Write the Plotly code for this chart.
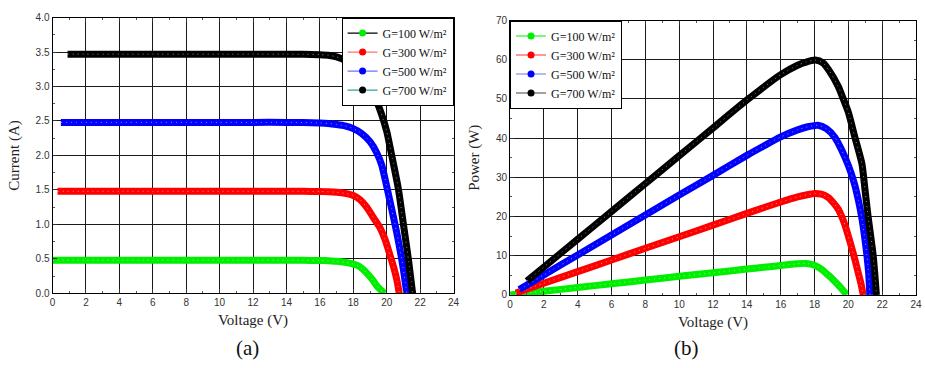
import plotly.graph_objects as go

W, H = 925, 368

# ---------------- Panel (a): I-V curves ----------------
iv_v_100 = [0.0, 2, 4, 6, 8, 10, 12, 14, 15, 16, 16.5, 17, 17.5, 18, 18.3, 18.6, 18.9, 19.2, 19.4, 19.6, 19.8, 19.9]
iv_i_100 = [0.48, 0.48, 0.48, 0.48, 0.48, 0.48, 0.48, 0.48, 0.478, 0.476, 0.472, 0.465, 0.45, 0.425, 0.40, 0.345, 0.27, 0.18, 0.11, 0.06, 0.015, 0.0]

iv_v_300 = [0.3, 2, 4, 6, 8, 10, 12, 14, 15, 16, 16.5, 17, 17.5, 18, 18.4, 18.8, 19.2, 19.6, 19.9, 20.2, 20.4, 20.6, 20.75]
iv_i_300 = [1.48, 1.48, 1.48, 1.48, 1.48, 1.48, 1.48, 1.48, 1.479, 1.477, 1.473, 1.465, 1.45, 1.42, 1.36, 1.25, 1.10, 0.95, 0.78, 0.55, 0.39, 0.20, 0.0]

iv_v_500 = [0.5, 2, 4, 6, 8, 10, 12, 14, 15, 16, 16.5, 17, 17.5, 18, 18.5, 19, 19.4, 19.7, 20.0, 20.3, 20.6, 20.9, 21.05, 21.2]
iv_i_500 = [2.48, 2.48, 2.48, 2.48, 2.48, 2.48, 2.48, 2.48, 2.478, 2.472, 2.465, 2.45, 2.43, 2.39, 2.32, 2.20, 2.04, 1.86, 1.55, 1.22, 0.88, 0.49, 0.26, 0.0]

iv_v_700 = [0.9, 2, 4, 6, 8, 10, 12, 14, 15, 16, 16.5, 17, 17.7, 18.3, 18.7, 19.07, 19.4, 19.66, 20.0, 20.2, 20.4, 20.7, 21.0, 21.3, 21.55]
iv_i_700 = [3.47, 3.47, 3.47, 3.47, 3.47, 3.47, 3.47, 3.47, 3.468, 3.462, 3.455, 3.43, 3.36, 3.24, 3.10, 2.94, 2.78, 2.62, 2.35, 2.12, 1.88, 1.51, 1.0, 0.49, 0.0]

# ---------------- Panel (b): P-V curves ----------------
pv_v_100 = [0.0, 2, 4, 6, 8, 10, 12, 14, 15, 16, 16.5, 17, 17.5, 18.0, 18.4, 18.8, 19.1, 19.4, 19.6, 19.8, 19.9]
pv_p_100 = [0.0, 0.95, 1.9, 2.85, 3.8, 4.75, 5.65, 6.6, 7.05, 7.5, 7.75, 7.95, 8.05, 7.6, 6.6, 5.1, 3.9, 2.6, 1.6, 0.6, 0.0]

pv_v_300 = [0.35, 2, 4, 6, 8, 10, 12, 14, 16, 17, 17.5, 18.0, 18.4, 18.8, 19.1, 19.4, 19.6, 19.8, 20.0, 20.2, 20.4, 20.6, 20.75, 20.88]
pv_p_300 = [0.5, 3.0, 5.95, 8.9, 11.9, 14.85, 17.8, 20.8, 23.7, 25.0, 25.5, 25.9, 25.7, 24.9, 23.6, 21.9, 20.1, 17.8, 15.0, 12.0, 8.8, 5.4, 2.8, 0.0]

pv_v_500 = [0.55, 2, 4, 6, 8, 10, 12, 14, 15, 16, 17, 17.6, 18.2, 18.7, 19.2, 19.6, 20.0, 20.35, 20.6, 20.8, 21.0, 21.1, 21.2, 21.27]
pv_p_500 = [1.4, 5.1, 10.2, 15.3, 20.4, 25.5, 30.5, 35.6, 38.0, 40.3, 42.1, 42.9, 43.3, 42.4, 40.2, 37.0, 33.0, 28.5, 24.0, 19.5, 13.5, 10.0, 5.5, 0.0]

pv_v_700 = [1.0, 2, 4, 6, 8, 10, 12, 14, 16, 17, 17.5, 18.05, 18.5, 18.85, 19.4, 19.7, 20.0, 20.4, 20.8, 21.0, 21.17, 21.47, 21.66]
pv_p_700 = [3.55, 7.1, 14.2, 21.3, 28.4, 35.5, 42.6, 49.7, 56.2, 58.6, 59.4, 59.9, 59.2, 57.3, 53.2, 50.0, 46.6, 40.0, 33.5, 26.2, 19.9, 10.0, 0.0]

labels = ["G=100 W/m²", "G=300 W/m²", "G=500 W/m²", "G=700 W/m²"]
colors = ["#00ee00", "#ff0000", "#0000ff", "#000000"]
legend_a_line = ["#000000", "#ff7070", "#7070ff", "#2f9f9f"]
legend_b_line = ["#00ee00", "#ff3030", "#7070ff", "#444444"]

iv_sets = [(iv_v_100, iv_i_100), (iv_v_300, iv_i_300), (iv_v_500, iv_i_500), (iv_v_700, iv_i_700)]
pv_sets = [(pv_v_100, pv_p_100), (pv_v_300, pv_p_300), (pv_v_500, pv_p_500), (pv_v_700, pv_p_700)]

fig = go.Figure()

def add_band(xs, ys, color, xa, ya):
    fig.add_trace(go.Scatter(x=xs, y=ys, mode="lines", xaxis=xa, yaxis=ya,
                             line=dict(color=color, width=7, shape="spline", smoothing=0.6),
                             showlegend=False, hoverinfo="skip"))
    fig.add_trace(go.Scatter(x=xs, y=ys, mode="lines", xaxis=xa, yaxis=ya,
                             line=dict(color="rgba(255,255,255,0.55)", width=1, dash="1px,4px",
                                       shape="spline", smoothing=0.6),
                             showlegend=False, hoverinfo="skip"))

for (xs, ys), c in zip(iv_sets, colors):
    add_band(xs, ys, c, "x", "y")
for (xs, ys), c in zip(pv_sets, colors):
    add_band(xs, ys, c, "x2", "y2")

# legend entries
for lab, c, lc in zip(labels, colors, legend_a_line):
    fig.add_trace(go.Scatter(x=[None], y=[None], mode="lines+markers", name=lab, xaxis="x", yaxis="y",
                             line=dict(color=lc, width=1.2),
                             marker=dict(color=c, size=7, line=dict(color=c, width=0)),
                             legend="legend"))
for lab, c, lc in zip(labels, colors, legend_b_line):
    fig.add_trace(go.Scatter(x=[None], y=[None], mode="lines+markers", name=lab, xaxis="x2", yaxis="y2",
                             line=dict(color=lc, width=1.2),
                             marker=dict(color=c, size=7, line=dict(color=c, width=0)),
                             legend="legend2"))

tickfont = dict(family="Liberation Sans, Arial", size=10, color="#333333")
titlefont = dict(family="Liberation Serif, Times New Roman", size=15, color="#222222")

def xax(domain, anchor):
    return dict(domain=domain, anchor=anchor, range=[0, 24], dtick=2, tick0=0,
                showgrid=True, gridcolor="#1a1a1a", gridwidth=1, zeroline=False,
                showline=True, linecolor="#000000", linewidth=1, mirror="ticks",
                ticks="inside", ticklen=4, tickcolor="#333333", tickfont=tickfont,
                minor=dict(ticks="inside", ticklen=2, dtick=1, tickcolor="#555555", showgrid=False),
                title=dict(text="Voltage (V)", font=titlefont, standoff=7))

def yax(domain, anchor, rng, dtick, mdt, fmt, title, standoff):
    return dict(domain=domain, anchor=anchor, range=rng, dtick=dtick, tick0=0, tickformat=fmt,
                showgrid=True, gridcolor="#1a1a1a", gridwidth=1, zeroline=False,
                showline=True, linecolor="#000000", linewidth=1, mirror="ticks",
                ticks="inside", ticklen=4, tickcolor="#333333", tickfont=tickfont,
                minor=dict(ticks="inside", ticklen=2, dtick=mdt, tickcolor="#555555", showgrid=False),
                title=dict(text=title, font=titlefont, standoff=standoff))

legfont = dict(family="Liberation Serif, Times New Roman", size=12, color="#111111")

fig.update_layout(
    width=W, height=H,
    margin=dict(l=0, r=0, t=0, b=0),
    paper_bgcolor="white", plot_bgcolor="white",
    xaxis=xax([50 / W, 455 / W], "y"),
    yaxis=yax([(H - 297) / H, (H - 12) / H], "x", [0, 4], 0.5, 0.25, ".1f", "Current (A)", 12),
    xaxis2=xax([512 / W, 922 / W], "y2"),
    yaxis2=yax([(H - 298.7) / H, (H - 15) / H], "x2", [0, 70], 10, 5, "d", "Power (W)", 12),
    legend=dict(x=455 / W, y=(H - 12) / H, xanchor="right", yanchor="top",
                bgcolor="white", bordercolor="#000000", borderwidth=1,
                font=legfont, tracegroupgap=0, itemwidth=30),
    legend2=dict(x=512 / W, y=(H - 15) / H, xanchor="left", yanchor="top",
                 bgcolor="white", bordercolor="#000000", borderwidth=1,
                 font=legfont, tracegroupgap=0, itemwidth=30),
    annotations=[
        dict(text="(a)", x=247 / W, y=(H - 354) / H, xref="paper", yref="paper",
             showarrow=False, font=dict(family="Liberation Serif, Times New Roman", size=21, color="#111111"),
             xanchor="center", yanchor="middle"),
        dict(text="(b)", x=690 / W, y=(H - 354) / H, xref="paper", yref="paper",
             showarrow=False, font=dict(family="Liberation Serif, Times New Roman", size=21, color="#111111"),
             xanchor="center", yanchor="middle"),
    ],
)

fig.write_html("out.html")
